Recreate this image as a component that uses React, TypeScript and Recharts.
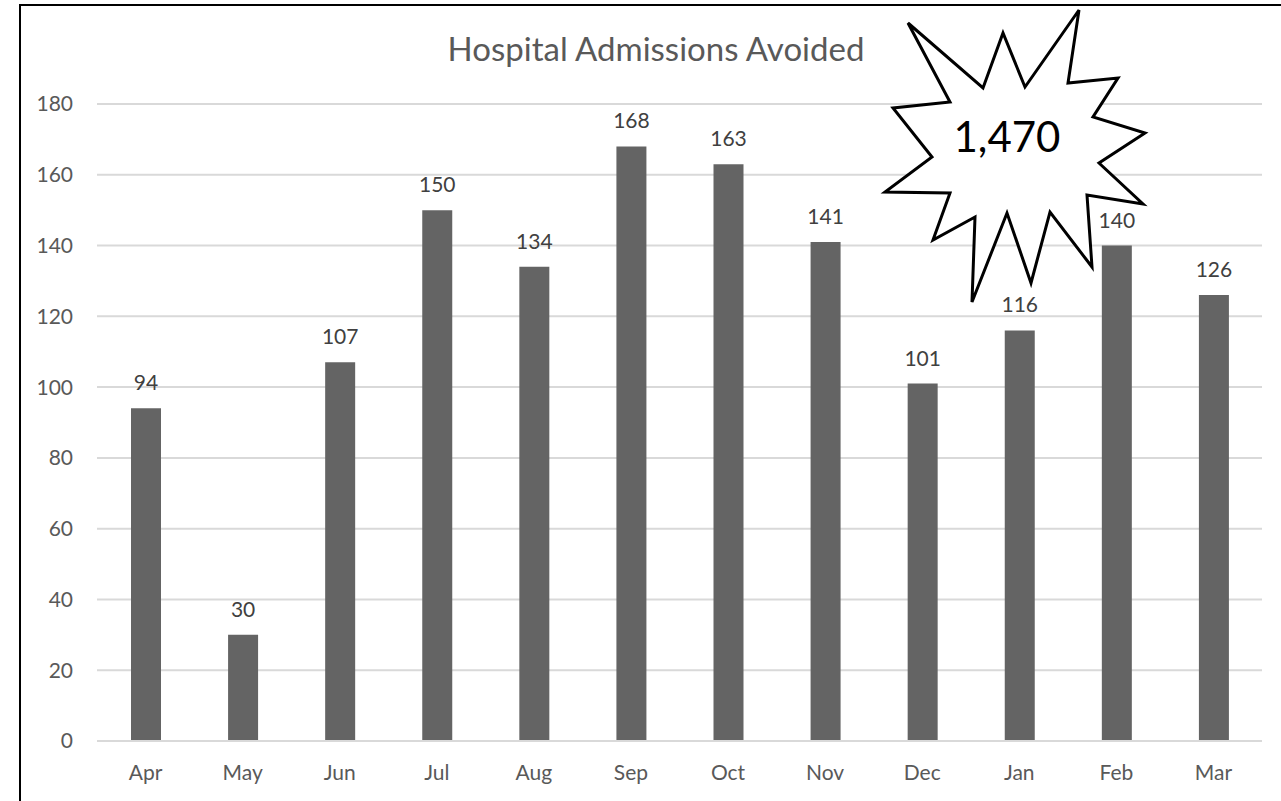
import React from 'react'
import { BarChart, Bar, XAxis, YAxis, CartesianGrid, LabelList } from 'recharts'

const months = ['Apr', 'May', 'Jun', 'Jul', 'Aug', 'Sep', 'Oct', 'Nov', 'Dec', 'Jan', 'Feb', 'Mar']
const admissionsAvoided = [94, 30, 107, 150, 134, 168, 163, 141, 101, 116, 140, 126]
const yTicks = [0, 20, 40, 60, 80, 100, 120, 140, 160, 180]

const chartData = months.map((m, i) => ({ month: m, value: admissionsAvoided[i] }))
const total = admissionsAvoided.reduce((a, b) => a + b, 0)

// callout burst outline (page coords)
const burst: [number, number][] = [
  [908, 23], [983, 88], [1003, 33], [1025, 87], [1079, 10], [1068, 83],
  [1118, 78], [1093, 117], [1145, 133], [1099, 163], [1143, 204], [1087, 195],
  [1092, 267], [1050, 212], [1031, 283], [1007, 213], [972, 302], [975, 217],
  [933, 240], [950, 193], [885, 192], [932, 157], [893, 108], [950, 102],
]

const font = 'Lato, "Noto Sans", sans-serif'

export default function App() {
  return (
    <div style={{ position: 'absolute', left: 0, top: 0, width: 1281, height: 801, background: '#fff', fontFamily: font }}>
      <div
        style={{
          position: 'absolute', left: 19, top: 4, width: 1262, height: 797,
          borderLeft: '2px solid #000', borderTop: '2px solid #000', boxSizing: 'border-box',
        }}
      />
      <BarChart
        width={1281}
        height={801}
        data={chartData}
        margin={{ top: 104, right: 19, left: 0, bottom: 0 }}
        barSize={30}
      >
        <CartesianGrid vertical={false} stroke="#d9d9d9" strokeWidth={2} />
        <XAxis
          dataKey="month"
          height={60}
          tickLine={false}
          tickSize={0}
          tickMargin={24}
          axisLine={{ stroke: '#d9d9d9', strokeWidth: 2 }}
          tick={{ fill: '#595959', fontSize: 21, fontFamily: font }}
        />
        <YAxis
          width={97}
          domain={[0, 180]}
          ticks={yTicks}
          axisLine={false}
          tickLine={false}
          tickSize={0}
          tickMargin={24}
          tick={{ fill: '#595959', fontSize: 21, fontFamily: font }}
        />
        <Bar dataKey="value" fill="#646464" isAnimationActive={false}>
          <LabelList dataKey="value" position="top" offset={18} fill="#404040" fontSize={21} fontFamily={font} />
        </Bar>
      </BarChart>
      <svg width={1281} height={801} style={{ position: 'absolute', left: 0, top: 0, pointerEvents: 'none' }}>
        <text x={656} y={61} textAnchor="middle" fill="#595959" fontSize={33} fontFamily={font}>
          Hospital Admissions Avoided
        </text>
        <polygon points={burst.map((p) => p.join(',')).join(' ')} fill="#fff" stroke="#000" strokeWidth={3} strokeLinejoin="miter" />
        <text x={1007} y={152} textAnchor="middle" fill="#000" fontSize={42} fontFamily={font}>
          {total.toLocaleString('en-US')}
        </text>
      </svg>
    </div>
  )
}
